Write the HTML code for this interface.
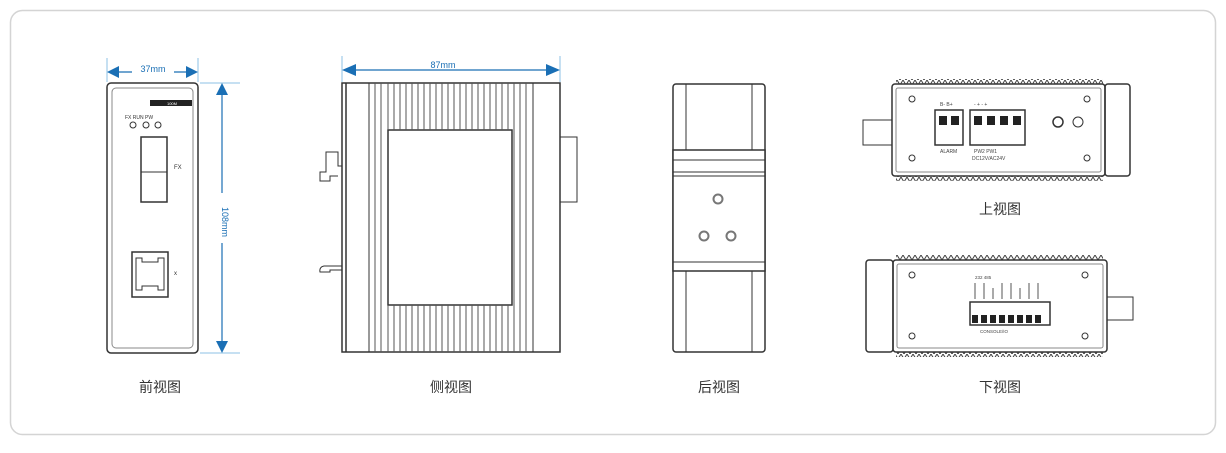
<!DOCTYPE html><html><head><meta charset="utf-8"><style>
body{margin:0;background:#fff;}
svg text{font-family:"Liberation Sans","Noto Sans CJK SC",sans-serif;}
</style></head><body>
<svg width="1226" height="448" viewBox="0 0 1226 448" xmlns="http://www.w3.org/2000/svg">
<defs>
<pattern id="zz" width="6" height="5" patternUnits="userSpaceOnUse"><path d="M0,5 L3,0 L6,5" fill="none" stroke="#444" stroke-width="1"/></pattern>
</defs>
<rect x="10.5" y="10.5" width="1205" height="424" rx="12" fill="#fff" stroke="#d4d4d4" stroke-width="1.5"/>

<!-- FRONT VIEW -->
<g stroke="#333" fill="none">
<rect x="107" y="83" width="91" height="270" rx="4" stroke-width="1.5"/>
<rect x="112" y="88" width="81" height="260" rx="4" stroke="#888"/>
<rect x="141" y="137" width="26" height="65" stroke-width="1.5"/>
<line x1="141" y1="172" x2="167" y2="172"/>
<rect x="132" y="252" width="36" height="45" stroke-width="1.5"/>
<path d="M136,258 h6 v4 h16 v-4 h6 v32 h-6 v-4 h-16 v4 h-6 z"/>
<circle cx="133" cy="125" r="3"/><circle cx="146" cy="125" r="3"/><circle cx="158" cy="125" r="3"/>
</g>
<rect x="150" y="100" width="42" height="6" fill="#222"/>
<text x="172" y="105" font-size="4" fill="#fff" text-anchor="middle">100M</text>
<text x="125" y="119" font-size="5" fill="#333">FX  RUN  PW</text>
<text x="174" y="169" font-size="6" fill="#333">FX</text>
<text x="174" y="275" font-size="6" fill="#333">x</text>
<g stroke="#8cc1e6" stroke-width="1"><line x1="107" y1="58" x2="107" y2="82"/><line x1="198" y1="58" x2="198" y2="82"/><line x1="200" y1="83" x2="240" y2="83"/><line x1="200" y1="353" x2="240" y2="353"/></g>
<line x1="112" y1="72" x2="193" y2="72" stroke="#1a6fb5" stroke-width="1.2"/>
<path d="M107,72 l12,-6 v12 z M198,72 l-12,-6 v12 z" fill="#1a6fb5"/>
<rect x="132" y="64" width="42" height="10" fill="#fff"/>
<text x="153" y="72" font-size="9" fill="#1a6fb5" text-anchor="middle" font-family="Liberation Serif">37mm</text>
<line x1="222" y1="90" x2="222" y2="346" stroke="#1a6fb5" stroke-width="1.2"/>
<path d="M222,83 l-6,12 h12 z M222,353 l-6,-12 h12 z" fill="#1a6fb5"/>
<rect x="216" y="193" width="12" height="50" fill="#fff"/>
<text x="226" y="218" font-size="9" fill="#1a6fb5" text-anchor="middle" transform="rotate(90 222 218)">108mm</text>

<!-- SIDE VIEW -->
<g stroke="#333" fill="none">
<rect x="342" y="83" width="218" height="269" stroke-width="1.5"/>
<line x1="346" y1="83" x2="346" y2="352" stroke-width="1.5"/>
<line x1="369" y1="83" x2="369" y2="352"/>
<line x1="533" y1="83" x2="533" y2="352"/>
<rect x="388" y="130" width="124" height="175" stroke-width="1.5" fill="#fff"/>
<rect x="560" y="137" width="17" height="65"/>
<path d="M342,166 h-4 v-14 h-12 v20 h-6 v9 h10 v-5 h8 M342,266 h-18 q-5,1 -4,6 h10 v-2 h12"/>
</g>
<g stroke="#555" stroke-width="1">
<path d="M375,83V352M381,83V352M388,83V130M394,83V130M400,83V130M406,83V130M412,83V130M418,83V130M424,83V130M430,83V130M436,83V130M442,83V130M448,83V130M454,83V130M460,83V130M466,83V130M472,83V130M478,83V130M484,83V130M490,83V130M496,83V130M502,83V130M508,83V130M388,305V352M394,305V352M400,305V352M406,305V352M412,305V352M418,305V352M424,305V352M430,305V352M436,305V352M442,305V352M448,305V352M454,305V352M460,305V352M466,305V352M472,305V352M478,305V352M484,305V352M490,305V352M496,305V352M502,305V352M508,305V352M514,83V352M520,83V352M526,83V352"/>
</g>
<g stroke="#8cc1e6"><line x1="342" y1="56" x2="342" y2="82"/><line x1="560" y1="56" x2="560" y2="82"/></g>
<line x1="350" y1="70" x2="552" y2="70" stroke="#1a6fb5" stroke-width="1.2"/>
<path d="M342,70 l14,-6 v12 z M560,70 l-14,-6 v12 z" fill="#1a6fb5"/>
<text x="443" y="68" font-size="9" fill="#1a6fb5" text-anchor="middle" font-family="Liberation Serif">87mm</text>

<!-- BACK VIEW -->
<g stroke="#333" fill="none">
<rect x="673" y="84" width="92" height="268" rx="3" stroke-width="1.5"/>
<line x1="686" y1="84" x2="686" y2="150"/><line x1="752" y1="84" x2="752" y2="150"/>
<line x1="686" y1="271" x2="686" y2="352"/><line x1="752" y1="271" x2="752" y2="352"/>
<rect x="673" y="150" width="92" height="121" fill="#fff" stroke-width="1.5"/>
<line x1="673" y1="160" x2="765" y2="160"/><line x1="673" y1="172" x2="765" y2="172"/><line x1="673" y1="176" x2="765" y2="176"/><line x1="673" y1="262" x2="765" y2="262"/>
<circle cx="718" cy="199" r="4.5" stroke="#777" stroke-width="2"/><circle cx="704" cy="236" r="4.5" stroke="#777" stroke-width="2"/><circle cx="731" cy="236" r="4.5" stroke="#777" stroke-width="2"/>
</g>

<!-- TOP VIEW -->
<rect x="896" y="79" width="207" height="5" fill="url(#zz)"/>
<rect x="896" y="176" width="207" height="5" fill="url(#zz)" transform="rotate(180 999.5 178.5)"/>
<g stroke="#333" fill="none">
<rect x="892" y="84" width="213" height="92" rx="3" stroke-width="1.5"/>
<rect x="896" y="88" width="205" height="84" rx="2" stroke="#888"/>
<rect x="1105" y="84" width="25" height="92" rx="3" stroke-width="1.5"/>
<rect x="863" y="120" width="29" height="25"/>
<rect x="935" y="110" width="28" height="35" stroke-width="1.5"/>
<rect x="970" y="110" width="55" height="35" stroke-width="1.5"/>
<circle cx="1058" cy="122" r="5" stroke-width="1.5"/><circle cx="1078" cy="122" r="5"/>
<circle cx="912" cy="99" r="3"/><circle cx="1087" cy="99" r="3"/><circle cx="912" cy="158" r="3"/><circle cx="1087" cy="158" r="3"/>
</g>
<g fill="#222"><rect x="939" y="116" width="8" height="9"/><rect x="951" y="116" width="8" height="9"/><rect x="974" y="116" width="8" height="9"/><rect x="987" y="116" width="8" height="9"/><rect x="1000" y="116" width="8" height="9"/><rect x="1013" y="116" width="8" height="9"/></g>
<g font-size="5" fill="#444"><text x="940" y="106">B-  B+</text><text x="974" y="106">-   +   -   +</text><text x="940" y="153">ALARM</text><text x="974" y="153">PW2      PW1</text><text x="972" y="160">DC12V/AC24V</text></g>
<text x="1000" y="214" font-size="14" fill="#333" text-anchor="middle">上视图</text>

<!-- BOTTOM VIEW -->
<rect x="896" y="255" width="207" height="5" fill="url(#zz)"/>
<rect x="896" y="352" width="207" height="5" fill="url(#zz)" transform="rotate(180 999.5 354.5)"/>
<g stroke="#333" fill="none">
<rect x="893" y="260" width="214" height="92" rx="3" stroke-width="1.5"/>
<rect x="897" y="264" width="206" height="84" rx="2" stroke="#888"/>
<rect x="866" y="260" width="27" height="92" rx="3" stroke-width="1.5"/>
<rect x="1107" y="297" width="26" height="23"/>
<rect x="970" y="302" width="80" height="23" stroke-width="1.5"/>
<circle cx="912" cy="275" r="3"/><circle cx="1085" cy="275" r="3"/><circle cx="912" cy="336" r="3"/><circle cx="1085" cy="336" r="3"/>
</g>
<g fill="#222"><rect x="972" y="315" width="6" height="8"/><rect x="981" y="315" width="6" height="8"/><rect x="990" y="315" width="6" height="8"/><rect x="999" y="315" width="6" height="8"/><rect x="1008" y="315" width="6" height="8"/><rect x="1017" y="315" width="6" height="8"/><rect x="1026" y="315" width="6" height="8"/><rect x="1035" y="315" width="6" height="8"/></g>
<g font-size="4.5" fill="#444"><text x="975" y="279">232    485</text><text x="980" y="333">CONSOLE/IO</text></g>
<g stroke="#555" stroke-width="1"><path d="M975,283v16M984,283v16M993,288v11M1002,283v16M1011,283v16M1020,288v11M1029,283v16M1038,283v16"/></g>
<text x="1000" y="392" font-size="14" fill="#333" text-anchor="middle">下视图</text>

<text x="160" y="392" font-size="14" fill="#333" text-anchor="middle">前视图</text>
<text x="451" y="392" font-size="14" fill="#333" text-anchor="middle">侧视图</text>
<text x="719" y="392" font-size="14" fill="#333" text-anchor="middle">后视图</text>
</svg>
</body></html>
